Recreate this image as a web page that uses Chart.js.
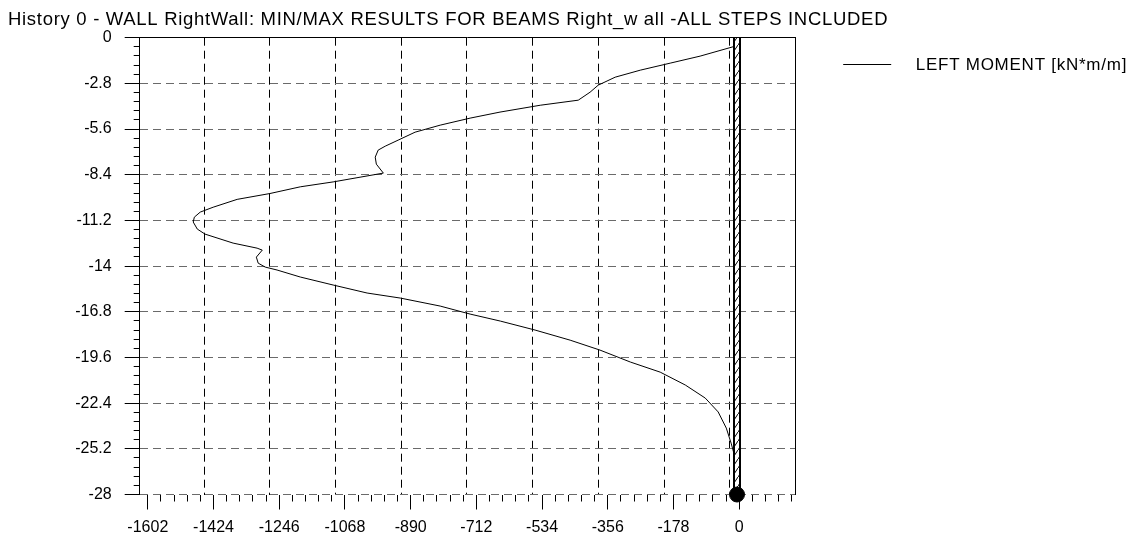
<!DOCTYPE html>
<html>
<head>
<meta charset="utf-8">
<script src="https://cdn.jsdelivr.net/npm/chart.js@4.4.0/dist/chart.umd.min.js"></script>
<style>
  html, body { margin: 0; padding: 0; background: #fff; }
  #c { display: block; }
</style>
</head>
<body>
<canvas id="c" width="1137" height="541" style="width:1137px;height:541px"></canvas>
<script>
// ---------- data ----------
const chartTitle = "History 0 - WALL RightWall: MIN/MAX RESULTS FOR BEAMS Right_w all -ALL STEPS INCLUDED";
const seriesName = "LEFT MOMENT [kN*m/m]";

const xTickValues = [-1602, -1424, -1246, -1068, -890, -712, -534, -356, -178, 0];
const xTickLabels = ["-1602", "-1424", "-1246", "-1068", "-890", "-712", "-534", "-356", "-178", "0"];
const yTickValues = [0, -2.8, -5.6, -8.4, -11.2, -14, -16.8, -19.6, -22.4, -25.2, -28];
const yTickLabels = ["0", "-2.8", "-5.6", "-8.4", "-11.2", "-14", "-16.8", "-19.6", "-22.4", "-25.2", "-28"];

// moment envelope (kN*m/m) vs depth (m)
const moment = [-3, -11, -106, -187, -268, -336, -382, -404, -436, -539, -648, -729, -810, -878, -924, -959,
  -978, -986, -983, -964, -1100, -1189, -1271, -1360, -1425, -1460, -1476, -1479, -1468, -1447, -1371,
  -1306, -1292, -1308, -1303, -1284, -1252, -1189, -1100, -1008, -918, -810, -729, -647, -553, -458,
  -377, -295, -214, -146, -92, -57, -35, -22, -11, -5];
const depth = [-0.3, -0.52, -1.13, -1.56, -1.99, -2.42, -2.91, -3.34, -3.83, -4.14, -4.56, -4.93, -5.36, -5.79, -6.28, -6.65,
  -6.89, -7.32, -7.75, -8.30, -8.84, -9.14, -9.55, -9.91, -10.39, -10.69, -11.0, -11.30, -11.73, -12.04, -12.59,
  -12.90, -13.02, -13.45, -13.82, -14.06, -14.24, -14.67, -15.16, -15.65, -15.96, -16.45, -16.94, -17.37, -17.92, -18.54,
  -19.15, -19.88, -20.50, -21.29, -22.09, -22.94, -23.93, -24.85, -25.76, -26.5];

// wall element and its base node
const wallX = [-6, -6];
const wallDepth = [0, -28];
const nodeX = [-6];
const nodeDepth = [-28];

// ---------- scale settings ----------
const xMin = -1624, xMax = 153;
const yMin = -28, yMax = 0;
const minorPerMajor = 5;
const gridOffset = -25.7;   // vertical grid lines sit slightly left of the labelled ticks

const FONT = "'Liberation Sans', Arial, sans-serif";

function hatchPattern(ctx) {
  const c = document.createElement('canvas');
  c.width = 6; c.height = 9;
  const g = c.getContext('2d');
  g.fillStyle = '#fff';
  g.fillRect(0, 0, 6, 9);
  g.strokeStyle = '#000';
  g.lineWidth = 1;
  g.beginPath();
  g.moveTo(-1, 10.5);
  g.lineTo(7, -1.5);
  g.stroke();
  return ctx.createPattern(c, 'repeat');
}

const canvas = document.getElementById('c');
const ctx = canvas.getContext('2d');

function pts(xs, ys) { return xs.map((x, i) => ({ x: x, y: ys[i] })); }

function minorTicks(values, lo, hi) {
  const sorted = values.slice().sort((a, b) => a - b);
  const step = Math.abs(sorted[1] - sorted[0]) / minorPerMajor;
  const out = [];
  if (!(step > 0)) return out;
  const n0 = Math.ceil((lo - sorted[0]) / step - 1e-9);
  const n1 = Math.floor((hi - sorted[0]) / step + 1e-9);
  for (let n = n0; n <= n1 && out.length < 1000; n++) {
    out.push({ value: sorted[0] + n * step });
  }
  return out;
}

// slightly wide GDI-like letter spacing for the title
const titleSpacing = {
  id: 'titleSpacing',
  afterLayout(chart) {
    const tb = chart.titleBlock;
    if (tb && !tb._spaced) {
      const orig = tb.draw;
      tb.draw = function () {
        const c = this.ctx;
        c.save();
        try { c.letterSpacing = '0.7px'; } catch (e) {}
        orig.apply(this, arguments);
        c.restore();
      };
      tb._spaced = true;
    }
  }
};

const legendPlugin = {
  id: 'sideLegend',
  afterDraw(chart) {
    const c = chart.ctx;
    const a = chart.chartArea;
    const y = Math.round(a.top + 25.8);
    c.save();
    c.strokeStyle = '#000';
    c.lineWidth = 1;
    c.beginPath();
    c.moveTo(a.right + 47.5, y + 0.5);
    c.lineTo(a.right + 95.5, y + 0.5);
    c.stroke();
    c.fillStyle = '#000';
    c.font = "17px " + FONT;
    try { c.letterSpacing = '0.75px'; } catch (e) {}
    c.textBaseline = 'middle';
    c.textAlign = 'left';
    c.fillText(seriesName, a.right + 120, y + 1);
    c.restore();
  }
};

const hiddenTicks = { display: false };

new Chart(ctx, {
  type: 'scatter',
  data: {
    datasets: [
      {
        label: 'node',
        data: pts(nodeX, nodeDepth),
        pointRadius: 7.5,
        pointBackgroundColor: '#000',
        pointBorderColor: '#000',
        showLine: false,
        clip: false,
        order: 0
      },
      {
        label: 'wall-hatch',
        data: pts(wallX, wallDepth),
        showLine: true,
        borderColor: hatchPattern(ctx),
        borderWidth: 4,
        borderCapStyle: 'butt',
        pointRadius: 0,
        order: 1
      },
      {
        label: 'wall',
        data: pts(wallX, wallDepth),
        showLine: true,
        borderColor: '#000',
        borderWidth: 8,
        borderCapStyle: 'butt',
        pointRadius: 0,
        order: 2
      },
      {
        label: seriesName,
        data: pts(moment, depth),
        showLine: true,
        borderColor: '#000',
        borderWidth: 1,
        pointRadius: 0,
        tension: 0,
        order: 3
      }
    ]
  },
  options: {
    responsive: false,
    animation: false,
    devicePixelRatio: 1,
    layout: { padding: { left: 8, right: 0, top: 0, bottom: 0 } },
    plugins: {
      legend: { display: false },
      tooltip: { enabled: false },
      title: {
        display: true,
        text: chartTitle,
        align: 'start',
        color: '#000',
        font: { family: FONT, size: 18.5, weight: 'normal', lineHeight: 1.2 },
        padding: { top: 8.9, bottom: 6.6 }
      }
    },
    scales: {
      x: {
        type: 'linear', position: 'bottom', min: xMin, max: xMax, weight: 0,
        afterBuildTicks: s => { s.ticks = xTickValues.map(v => ({ value: v })); },
        afterFit: s => { s.height = 46.5; },
        ticks: {
          autoSkip: false, maxRotation: 0, padding: 8, color: '#000',
          font: { family: FONT, size: 16 },
          callback: (v, i) => xTickLabels[i]
        },
        grid: { drawOnChartArea: false, drawTicks: true, tickLength: 15, tickColor: '#000', tickWidth: 1 },
        border: { display: false }
      },
      xm: {
        type: 'linear', position: 'bottom', min: xMin, max: xMax, weight: -1,
        afterBuildTicks: s => { s.ticks = minorTicks(xTickValues, xMin, xMax); },
        afterFit: s => { s.height = 0; },
        ticks: hiddenTicks,
        grid: { drawOnChartArea: false, drawTicks: true, tickLength: 7, tickColor: '#000', tickWidth: 1 },
        border: { display: false }
      },
      xg: {
        type: 'linear', position: 'bottom', min: xMin, max: xMax, weight: -2,
        afterBuildTicks: s => { s.ticks = xTickValues.map(v => ({ value: v + gridOffset })).filter(t => t.value >= xMin); },
        afterFit: s => { s.height = 0; },
        ticks: hiddenTicks,
        grid: { drawOnChartArea: true, drawTicks: false, color: '#000', lineWidth: 1 },
        border: { display: false, dash: [8, 5] }
      },
      xt: {
        type: 'linear', position: 'top', min: xMin, max: xMax,
        afterBuildTicks: s => { s.ticks = xTickValues.map(v => ({ value: v })); },
        afterFit: s => { s.height = 0; },
        ticks: hiddenTicks,
        grid: { drawOnChartArea: false, drawTicks: false },
        border: { display: true, color: '#000', width: 1, z: 1 }
      },
      y: {
        type: 'linear', position: 'left', min: yMin, max: yMax, weight: 0,
        afterBuildTicks: s => { s.ticks = yTickValues.map(v => ({ value: v })); },
        afterFit: s => { s.width = 131.7; },
        ticks: {
          autoSkip: false, padding: 13, color: '#000',
          font: { family: FONT, size: 16 },
          callback: (v, i) => yTickLabels[i]
        },
        grid: {
          drawOnChartArea: true, drawTicks: true, tickLength: 15,
          color: ctx2 => (ctx2.tick && ctx2.tick.value === 0) ? 'rgba(0,0,0,0)' : '#6a6a6a',
          tickColor: '#000', tickWidth: 1, tickBorderDash: []
        },
        border: { display: true, color: '#000', width: 1, dash: [8, 5], z: 1 }
      },
      ym: {
        type: 'linear', position: 'left', min: yMin, max: yMax, weight: -1,
        afterBuildTicks: s => { s.ticks = minorTicks(yTickValues, yMin, yMax); },
        afterFit: s => { s.width = 0; },
        ticks: hiddenTicks,
        grid: { drawOnChartArea: false, drawTicks: true, tickLength: 6, tickColor: '#000', tickWidth: 1 },
        border: { display: false }
      },
      yr: {
        type: 'linear', position: 'right', min: yMin, max: yMax,
        afterBuildTicks: s => { s.ticks = yTickValues.map(v => ({ value: v })); },
        afterFit: s => { s.width = 341.3; },   // leaves the side space used by the legend
        ticks: hiddenTicks,
        grid: { drawOnChartArea: false, drawTicks: false },
        border: { display: true, color: '#000', width: 1, z: 1 }
      }
    }
  },
  plugins: [titleSpacing, legendPlugin]
});
</script>
</body>
</html>
